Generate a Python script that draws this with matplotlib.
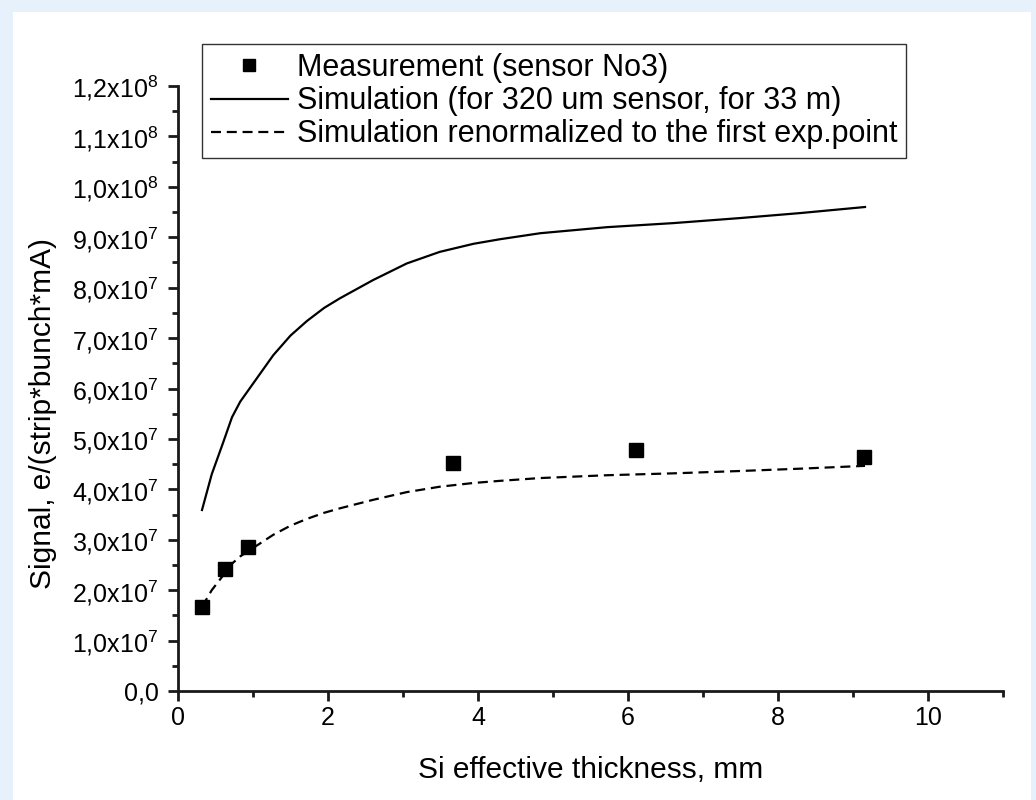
import numpy as np
import matplotlib.pyplot as plt
from matplotlib.ticker import FuncFormatter, MultipleLocator
from matplotlib.patches import Rectangle

plt.rcParams['font.family'] = ['Liberation Sans', 'DejaVu Sans']
plt.rcParams['mathtext.fontset'] = 'custom'
plt.rcParams['mathtext.rm'] = 'Liberation Sans'
plt.rcParams['mathtext.default'] = 'regular'

# measured signal vs effective Si thickness
meas_x = [0.32, 0.63, 0.93, 3.66, 6.11, 9.15]
meas_y = [1.67e7, 2.42e7, 2.86e7, 4.52e7, 4.78e7, 4.64e7]

# simulation for the 320 um sensor
sim_x = [0.32, 0.45, 0.60, 0.72, 0.83, 1.05, 1.27, 1.50, 1.72, 1.95, 2.16,
         2.60, 3.05, 3.49, 3.94, 4.29, 4.83, 5.72, 6.60, 7.49, 8.30, 9.16]
sim_y = [3.59e7, 4.30e7, 4.92e7, 5.43e7, 5.74e7, 6.20e7, 6.66e7, 7.05e7,
         7.34e7, 7.60e7, 7.79e7, 8.15e7, 8.48e7, 8.71e7, 8.87e7, 8.96e7,
         9.08e7, 9.20e7, 9.28e7, 9.38e7, 9.48e7, 9.60e7]

# renormalize simulation to the first measured point
sim_y = np.array(sim_y)
sim_norm = sim_y * meas_y[0] / sim_y[0]


def sci_fmt(v, pos):
    if abs(v) < 1:
        return '0,0'
    if v < 0:
        return ''
    e = int(np.floor(np.log10(v) + 1e-9))
    m = v / 10**e
    return ('%.1f' % m).replace('.', ',') + 'x10$^{%d}$' % e


fig = plt.figure(figsize=(10.36, 8), dpi=100)
fig.patch.set_facecolor('#e6f1fb')
fig.patches.append(Rectangle((13 / 1036, 0), (1031 - 13) / 1036, 1 - 12 / 800,
                             transform=fig.transFigure, facecolor='white',
                             edgecolor='none', zorder=-5))

ax = fig.add_axes([178 / 1036, 1 - 691 / 800, (1003 - 178) / 1036, (691 - 86) / 800])
ax.set_facecolor('none')

ax.plot(meas_x, meas_y, 's', color='black', markersize=10, clip_on=False,
        label='Measurement (sensor No3)', zorder=3)
ax.plot(sim_x, sim_y, '-', color='black', lw=1.6,
        label='Simulation (for 320 um sensor, for 33 m)')
ax.plot(sim_x, sim_norm, color='black', lw=1.6, dashes=(4.5, 2.6),
        label='Simulation renormalized to the first exp.point')

ax.set_xlim(0, 11)
ax.set_ylim(0, 1.2e8)
ax.xaxis.set_major_locator(MultipleLocator(2))
ax.xaxis.set_minor_locator(MultipleLocator(1))
ax.yaxis.set_major_locator(MultipleLocator(1e7))
ax.yaxis.set_minor_locator(MultipleLocator(5e6))
ax.yaxis.set_major_formatter(FuncFormatter(sci_fmt))

for s in ['top', 'right']:
    ax.spines[s].set_visible(False)
for s in ['left', 'bottom']:
    ax.spines[s].set_linewidth(2.0)
    ax.spines[s].set_color('#1a1a1a')

ax.tick_params(which='major', direction='out', length=7, width=2.0,
               labelsize=18, pad=4, color='#1a1a1a')
ax.tick_params(axis='y', which='major', pad=7)
ax.tick_params(which='minor', direction='out', length=4, width=2.0,
               color='#1a1a1a')

ax.set_xlabel('Si effective thickness, mm', fontsize=21.5)
ax.set_ylabel('Signal, e/(strip*bunch*mA)', fontsize=21.5)
ax.xaxis.set_label_coords(0.5, -0.108)
ax.yaxis.set_label_coords(-0.147, 0.458)

leg = ax.legend(loc='upper left', bbox_to_anchor=(202 / 1036, 1 - 44 / 800),
                bbox_transform=fig.transFigure, borderaxespad=0,
                fontsize=22, fancybox=False, framealpha=1,
                edgecolor='#333333', handlelength=2.5, handletextpad=0.3,
                borderpad=0.3, labelspacing=0.1, markerscale=0.9)
leg.get_frame().set_linewidth(1.0)

fig.savefig('out.png', dpi=100)
